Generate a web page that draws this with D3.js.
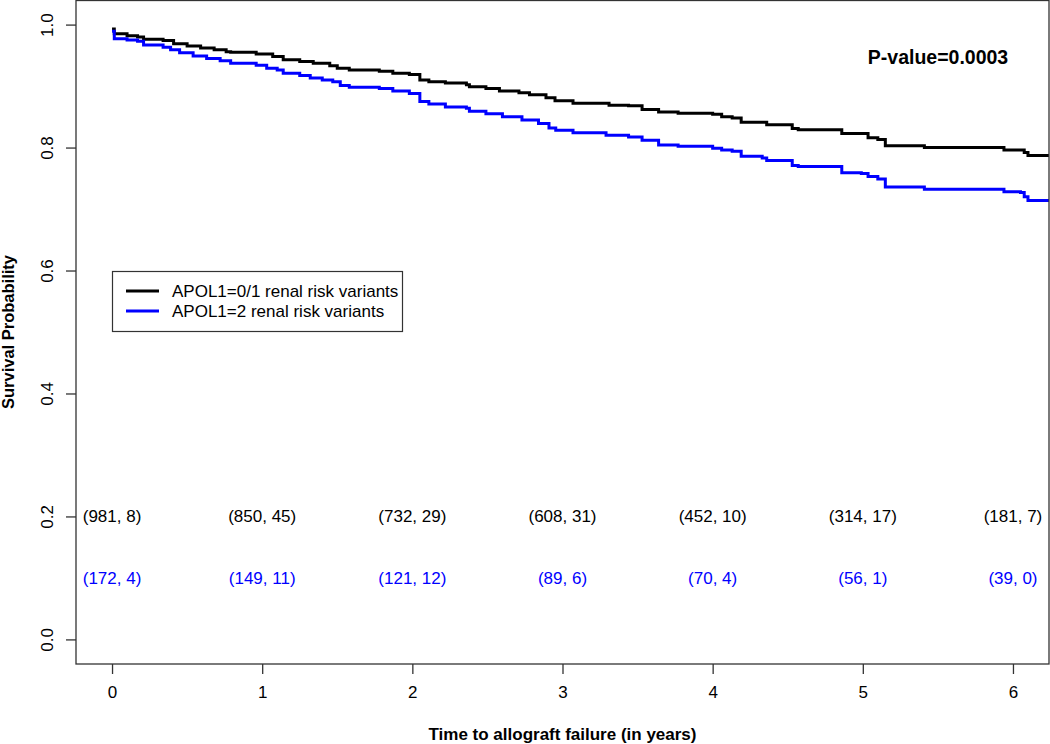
<!DOCTYPE html>
<html>
<head>
<meta charset="utf-8">
<script src="https://cdn.jsdelivr.net/npm/d3@7"></script>
<style>
  html, body { margin: 0; padding: 0; background: #fff; }
  svg { display: block; font-family: "Liberation Sans", Arial, sans-serif; }
</style>
</head>
<body>
<svg id="chart" width="1050" height="744"></svg>
<script>
// ---- Data ----
const timesA = [0, 0.015, 0.10, 0.17, 0.21, 0.34, 0.41, 0.50, 0.59, 0.68, 0.76, 0.79, 0.96, 1.07, 1.14, 1.25, 1.34, 1.45, 1.50, 1.58, 1.78, 1.87, 1.98, 2.05, 2.11, 2.22, 2.36, 2.38, 2.49, 2.58, 2.71, 2.78, 2.89, 2.95, 3.07, 3.31, 3.44, 3.53, 3.64, 3.77, 4.00, 4.06, 4.13, 4.19, 4.36, 4.53, 4.57, 4.86, 5.035, 5.10, 5.15, 5.41, 5.94, 6.075, 6.10, 6.24];
const survA  = [0.993, 0.985, 0.982, 0.980, 0.976, 0.974, 0.969, 0.965, 0.962, 0.959, 0.956, 0.955, 0.952, 0.948, 0.943, 0.940, 0.937, 0.933, 0.929, 0.926, 0.924, 0.921, 0.919, 0.910, 0.907, 0.905, 0.902, 0.899, 0.896, 0.892, 0.889, 0.886, 0.881, 0.876, 0.872, 0.869, 0.868, 0.862, 0.858, 0.856, 0.854, 0.850, 0.848, 0.841, 0.837, 0.831, 0.829, 0.823, 0.816, 0.813, 0.803, 0.800, 0.796, 0.792, 0.787, 0.787];
const timesB = [0, 0.015, 0.10, 0.17, 0.21, 0.34, 0.39, 0.45, 0.54, 0.63, 0.72, 0.79, 0.96, 1.03, 1.10, 1.14, 1.25, 1.32, 1.40, 1.47, 1.52, 1.58, 1.78, 1.87, 1.98, 2.05, 2.11, 2.22, 2.36, 2.38, 2.49, 2.60, 2.73, 2.84, 2.91, 2.955, 3.07, 3.29, 3.44, 3.53, 3.64, 3.77, 4.00, 4.06, 4.13, 4.19, 4.33, 4.36, 4.53, 4.57, 4.86, 4.99, 5.035, 5.10, 5.15, 5.41, 5.94, 6.05, 6.075, 6.10, 6.24];
const survB  = [0.989, 0.977, 0.975, 0.973, 0.967, 0.963, 0.959, 0.954, 0.949, 0.945, 0.941, 0.937, 0.934, 0.929, 0.926, 0.921, 0.917, 0.913, 0.910, 0.907, 0.901, 0.898, 0.896, 0.892, 0.888, 0.875, 0.871, 0.866, 0.864, 0.859, 0.855, 0.850, 0.845, 0.839, 0.832, 0.828, 0.824, 0.820, 0.817, 0.812, 0.804, 0.802, 0.799, 0.796, 0.794, 0.786, 0.783, 0.779, 0.771, 0.769, 0.759, 0.758, 0.753, 0.749, 0.736, 0.732, 0.728, 0.727, 0.720, 0.714, 0.714];

const seriesNames = ["APOL1=0/1 renal risk variants", "APOL1=2 renal risk variants"];
const seriesColors = ["#000000", "#0000ff"];

const riskTimes = [0, 1, 2, 3, 4, 5, 6];
const riskA = ["(981, 8)", "(850, 45)", "(732, 29)", "(608, 31)", "(452, 10)", "(314, 17)", "(181, 7)"];
const riskB = ["(172, 4)", "(149, 11)", "(121, 12)", "(89, 6)", "(70, 4)", "(56, 1)", "(39, 0)"];
const riskRowY = [0.2, 0.1];

const xTicks = [0, 1, 2, 3, 4, 5, 6];
const yTicks = [0.0, 0.2, 0.4, 0.6, 0.8, 1.0];
const pValueText = "P-value=0.0003";

// ---- Layout ----
const svg = d3.select("#chart");
const L = 76, R = 1049, T = 0, B = 664;
const FS = 17;

const x = d3.scaleLinear().domain([-0.24, 6.24]).range([L, R]);
const y = d3.scaleLinear().domain([-0.04, 1.04]).range([B, T]);

svg.append("defs").append("clipPath").attr("id", "clip")
  .append("rect").attr("x", L).attr("y", T).attr("width", R - L).attr("height", B - T);

// Curves
const line = d3.line().x(d => x(d[0])).y(d => y(d[1])).curve(d3.curveStepAfter);
const series = [
  d3.zip(timesA, survA),
  d3.zip(timesB, survB)
];
const g = svg.append("g").attr("clip-path", "url(#clip)");
series.forEach((s, i) => {
  g.append("path").datum(s)
    .attr("d", line)
    .attr("fill", "none")
    .attr("stroke", seriesColors[i])
    .attr("stroke-width", 3)
    .attr("stroke-linejoin", "miter");
});

// Box
svg.append("rect").attr("x", L).attr("y", T + 0.5).attr("width", R - L).attr("height", B - T - 0.5)
  .attr("fill", "none").attr("stroke", "#333").attr("stroke-width", 1.3);

// X axis
const xAxis = d3.axisBottom(x).tickValues(xTicks).tickSize(10).tickPadding(12).tickFormat(d3.format("d"));
const xg = svg.append("g").attr("transform", `translate(0,${B})`).call(xAxis);
xg.select(".domain").remove();
xg.selectAll(".tick line").attr("stroke", "#333").attr("stroke-width", 1.3);
xg.selectAll(".tick text").attr("font-size", FS).attr("fill", "#000")
  .attr("font-family", "Liberation Sans, Arial, sans-serif");

// Y axis
const yAxis = d3.axisLeft(y).tickValues(yTicks).tickSize(10).tickFormat(d3.format(".1f"));
const yg = svg.append("g").attr("transform", `translate(${L},0)`).call(yAxis);
yg.select(".domain").remove();
yg.selectAll(".tick line").attr("stroke", "#333").attr("stroke-width", 1.3);
yg.selectAll(".tick text").remove();
yg.selectAll(".tick").append("text")
  .attr("transform", "translate(-29,0) rotate(-90)")
  .attr("text-anchor", "middle")
  .attr("dy", "0.35em")
  .attr("font-size", FS)
  .attr("fill", "#000")
  .attr("font-family", "Liberation Sans, Arial, sans-serif")
  .text(d => d3.format(".1f")(d));

// Axis titles
svg.append("text")
  .attr("x", (L + R) / 2).attr("y", 740)
  .attr("text-anchor", "middle")
  .attr("font-size", FS).attr("font-weight", "bold")
  .text("Time to allograft failure (in years)");

svg.append("text")
  .attr("transform", `translate(14,${(T + B) / 2}) rotate(-90)`)
  .attr("text-anchor", "middle")
  .attr("font-size", FS - 0.5).attr("font-weight", "bold")
  .text("Survival Probability");

// Risk table
[riskA, riskB].forEach((row, i) => {
  svg.append("g").selectAll("text").data(row).join("text")
    .attr("x", (d, j) => x(riskTimes[j]))
    .attr("y", y(riskRowY[i]))
    .attr("dy", "0.35em")
    .attr("text-anchor", "middle")
    .attr("font-size", FS)
    .attr("fill", seriesColors[i])
    .text(d => d);
});

// P-value
svg.append("text")
  .attr("x", 938).attr("y", 57).attr("dy", "0.35em")
  .attr("text-anchor", "middle")
  .attr("font-size", 19.5).attr("font-weight", "bold")
  .text(pValueText);

// Legend
const lg = svg.append("g");
lg.append("rect").attr("x", 112.5).attr("y", 271.5).attr("width", 290).attr("height", 60)
  .attr("fill", "#fff").attr("stroke", "#333").attr("stroke-width", 1.2);
seriesNames.forEach((name, i) => {
  const yy = 291 + i * 20;
  lg.append("line").attr("x1", 126).attr("x2", 159).attr("y1", yy).attr("y2", yy)
    .attr("stroke", seriesColors[i]).attr("stroke-width", 3);
  lg.append("text").attr("x", 172).attr("y", yy).attr("dy", "0.35em")
    .attr("font-size", FS).attr("fill", "#000").text(name);
});
</script>
</body>
</html>
